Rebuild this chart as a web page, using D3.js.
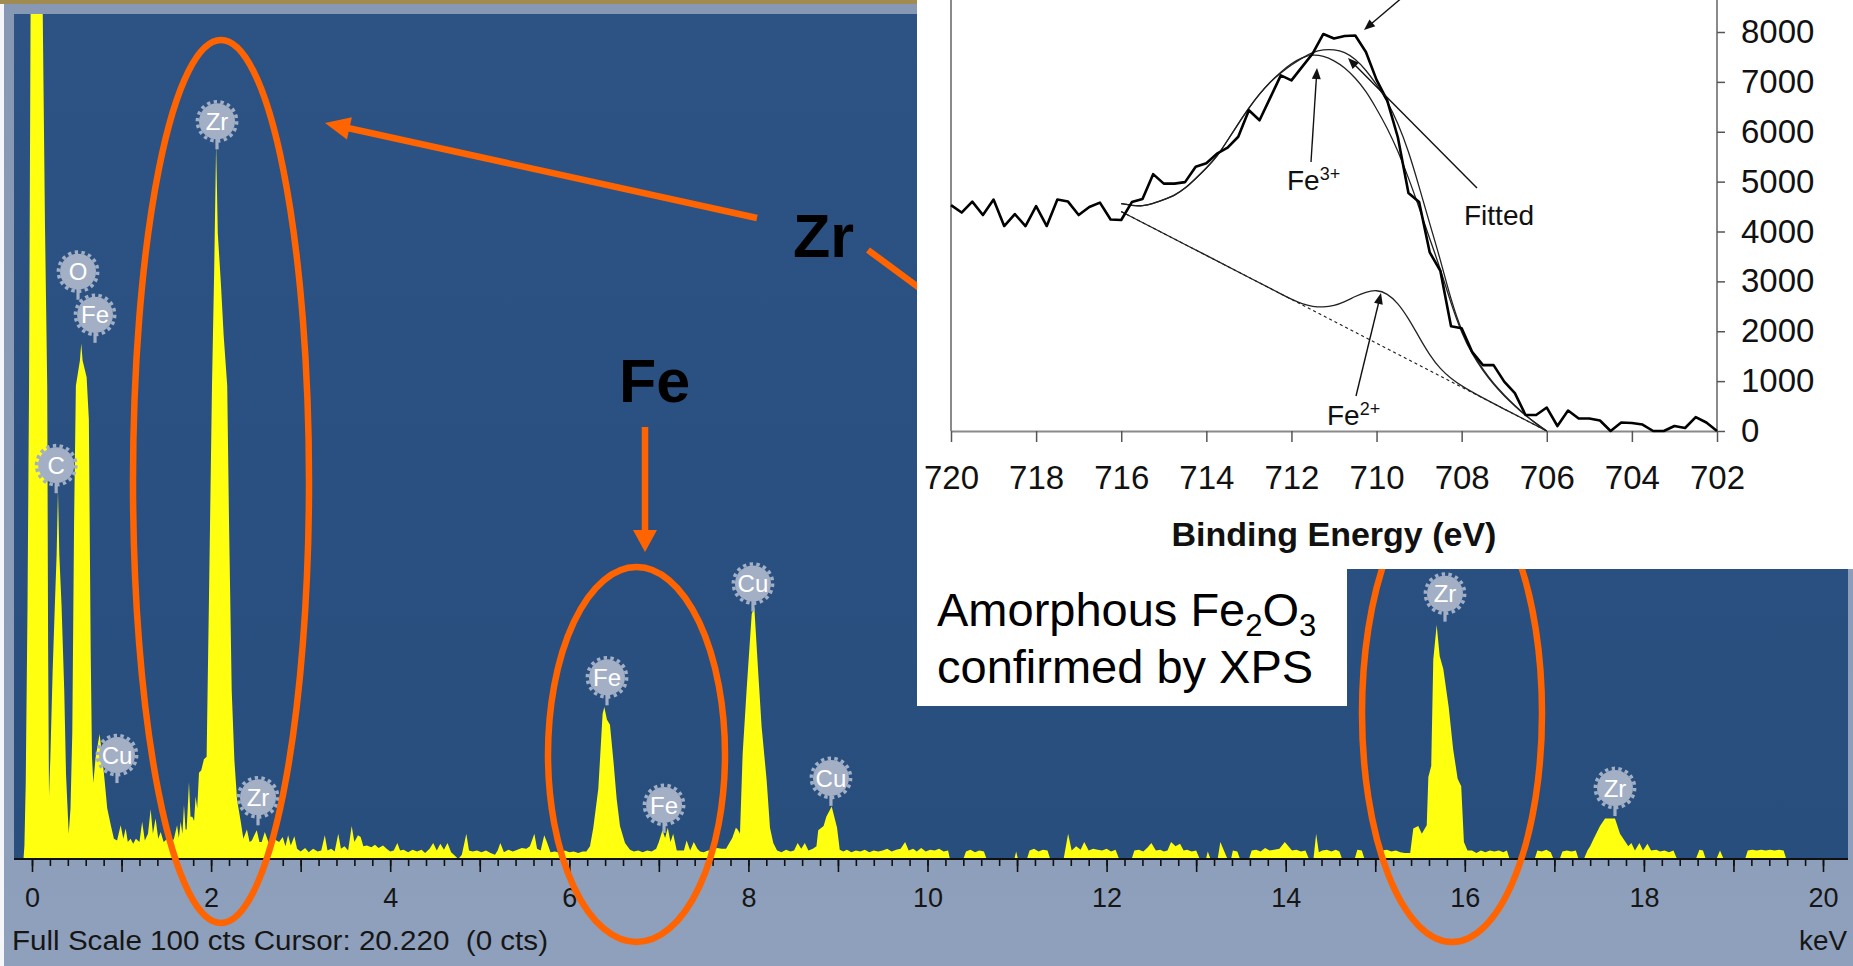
<!DOCTYPE html>
<html>
<head>
<meta charset="utf-8">
<script src="https://cdn.jsdelivr.net/npm/d3@7"></script>
<style>
  html, body { margin: 0; padding: 0; background: #8a9bb8; overflow: hidden; }
  svg { display: block; }
  text { font-family: 'Liberation Sans', Arial, sans-serif; }
</style>
</head>
<body>
<svg id="chart" width="1853" height="966"></svg>
<script>
// ---------- EDS spectrum: [energy (keV), counts] ----------
const edsSpectrum = [
  // zero-energy strobe peak
  [-0.095,0],[-0.085,1.5],[-0.07,9],[-0.05,30],[-0.033,56],[-0.016,100],[0.0,160],[0.1,160],[0.12,100],[0.145,75],[0.17,56],[0.18,25],[0.19,7.4],
  // C K
  [0.205,12],[0.23,22],[0.255,30],[0.275,36],[0.29,43.7],[0.305,36],[0.33,30],[0.36,20],[0.38,10],[0.41,3],
  // O K
  [0.43,6],[0.45,15],[0.47,40],[0.49,56],[0.535,59],[0.55,61],[0.565,59],[0.61,57],[0.635,52],[0.655,25],[0.67,12],[0.685,9],
  // Fe L / Cu L
  [0.71,12],[0.755,14.8],[0.78,12.5],[0.81,9.4],[0.84,6],[0.88,4],[0.915,2.4],
  [0.95,2.2],[0.99,4.0],[1.02,2.4],[1.046,3.6],[1.07,2.0],[1.10,2.4],[1.13,1.8],[1.16,2.4],[1.2,2.0],[1.23,4.4],[1.26,2.2],[1.295,3.0],[1.325,5.9],[1.35,3.0],[1.38,4.8],[1.41,2.4],[1.437,3.2],[1.47,2.0],[1.51,2.4],[1.55,1.8],[1.585,2.4],[1.62,4.0],[1.64,2.5],[1.66,4.4],[1.68,3.0],[1.697,6.4],[1.715,3.5],[1.727,3.5],[1.753,9.1],[1.77,5],[1.79,5],[1.81,4.5],[1.827,7.4],[1.845,6],[1.865,10.2],[1.89,10.5],[1.92,11.8],[1.95,12.1],
  // Zr L
  [1.975,30],[2.01,56],[2.035,70],[2.056,84.6],[2.075,74],[2.11,68],[2.14,62],[2.18,56],[2.2,40],[2.23,20],[2.26,11.7],[2.29,7],[2.33,4.5],[2.36,2.4],
  [2.4,3.5],[2.43,2.0],[2.455,2.2],[2.49,3.0],[2.51,3.4],[2.54,2.0],[2.565,2.0],[2.6,3.2],[2.64,2.0],[2.676,1.8],[2.71,2.4],[2.73,2.2],[2.76,2.0],[2.80,2.6],[2.83,1.5],[2.86,2.8],[2.89,1.6],[2.93,2.7],[2.96,1.2],[3.0,0.9],[3.05,1.3],[3.09,0.8],[3.14,1.2],[3.19,0.9],[3.23,1.0],[3.27,2.8],[3.30,1.0],[3.34,1.2],[3.38,0.9],[3.42,3.0],[3.45,1.2],[3.49,1.5],[3.53,1.0],[3.57,3.9],[3.60,2.0],[3.64,2.8],[3.67,2.6],[3.70,1.5],[3.74,1.6],[3.79,1.4],[3.83,1.7],[3.87,1.3],[3.92,1.6],[3.96,1.2],[4.0,0.9],[4.04,1.0],[4.08,1.9],[4.11,1.0],[4.15,1.1],[4.2,0.8],[4.25,1.1],[4.3,0.9],[4.35,1.1],[4.39,0.7],[4.44,1.2],[4.48,1.9],[4.52,1.0],[4.56,1.8],[4.6,1.1],[4.64,1.9],[4.68,0.8],[4.72,0.4],[4.76,0],[4.80,0.5],[4.85,3.0],[4.88,1.0],[4.92,0.9],[4.97,1.0],[5.02,0.8],[5.07,1.0],[5.12,0.7],[5.17,0.5],[5.2,1.0],[5.23,1.9],[5.27,0.8],[5.32,1.1],[5.37,0.9],[5.42,1.1],[5.47,1.3],[5.52,1.2],[5.56,1.5],[5.61,3.0],[5.64,1.2],[5.68,1.0],[5.72,2.8],[5.75,2.0],[5.79,0.8],[5.84,0.9],[5.9,0.7],[5.95,1.0],[6.0,0.8],[6.05,0.9],[6.10,0.7],[6.15,0.9],
  // Fe K alpha
  [6.19,0.9],[6.231,1.5],[6.268,3.7],[6.324,8.3],[6.372,17.2],[6.391,18.0],[6.42,16.5],[6.454,15.9],[6.492,11.7],[6.529,7.1],[6.566,3.9],[6.622,1.9],[6.678,1.1],
  [6.72,0.9],[6.77,1.0],[6.82,0.8],[6.87,1.0],[6.92,0.9],[6.97,1.2],
  // Fe K beta
  [7.0,2.0],[7.04,3.4],[7.07,2.5],[7.10,3.7],[7.13,2.0],[7.16,3.0],[7.2,1.0],[7.24,1.0],[7.28,1.0],[7.31,2.2],[7.35,1.0],[7.39,2.0],[7.43,1.2],[7.46,0.9],[7.50,0.8],[7.55,1.0],[7.60,1.1],[7.65,1.3],[7.70,1.2],
  // Cu K alpha
  [7.75,1.2],[7.82,2.5],[7.86,3.7],[7.88,3.5],[7.906,3.0],[7.936,12.5],[7.98,20],[8.037,29],[8.066,29.8],[8.11,22],[8.148,15.6],[8.204,9.3],[8.241,3.7],[8.278,1.9],[8.32,1.0],
  [8.37,0.8],[8.42,1.1],[8.47,0.9],[8.51,1.0],[8.55,1.9],[8.59,1.2],[8.63,1.9],[8.67,1.0],[8.72,1.2],
  // Cu K beta
  [8.76,1.5],[8.78,3.4],[8.84,3.9],[8.87,5.0],[8.93,6.2],[8.99,3.7],[9.02,1.1],
  [9.06,0.9],[9.10,1.1],[9.15,0.8],[9.2,1.0],[9.25,0.9],[9.3,1.1],[9.35,0.8],[9.4,1.0],[9.45,0.9],
  [9.5,1.0],[9.55,1.2],[9.6,0.9],[9.65,1.1],[9.7,1.2],[9.75,2.0],[9.79,1.0],[9.84,1.2],[9.88,0.9],[9.93,1.3],[9.98,0.9],[10.03,1.1],[10.08,1.0],[10.13,1.2],[10.18,0.9],[10.23,1.0],[10.25,0],
  [10.40,0],[10.43,0.9],[10.48,1.1],[10.53,0.8],[10.58,1.0],[10.63,0.9],[10.66,0],
  [10.97,0],[10.99,0.9],[11.01,0],
  [11.11,0],[11.14,1.0],[11.19,1.2],[11.24,0.9],[11.29,1.1],[11.34,1.0],[11.37,0],
  [11.52,0],[11.57,3.0],[11.61,1.0],[11.66,1.5],[11.71,1.1],[11.75,2.0],[11.8,1.0],[11.85,1.2],[11.9,1.1],[11.95,1.0],[12.0,1.2],[12.05,0.9],[12.10,1.1],[12.14,0],
  [12.28,0],[12.31,1.0],[12.36,1.1],[12.41,0.9],[12.46,1.4],[12.5,1.9],[12.55,1.0],[12.6,1.1],[12.64,0.9],[12.68,1.0],[12.72,2.0],[12.77,1.5],[12.82,1.8],[12.86,1.0],[12.9,1.1],[12.95,0.9],[13.0,1.0],[13.04,0],
  [13.11,0],[13.13,0.9],[13.16,0],[13.24,0],[13.27,2.0],[13.31,1.0],[13.35,0],[13.39,0],[13.41,1.0],[13.46,0.9],[13.49,0],
  [13.59,0],[13.62,1.0],[13.67,1.1],[13.72,0.9],[13.77,1.3],[13.82,1.0],[13.87,1.1],[13.93,1.2],[13.99,2.0],[14.03,1.5],[14.07,1.0],[14.12,1.1],[14.17,0.9],[14.22,1.0],[14.26,0],[14.31,0],[14.34,3.0],[14.37,0.8],[14.41,1.0],[14.46,1.1],[14.51,0.9],[14.56,1.1],[14.6,0.9],[14.63,0],
  [14.77,0],[14.8,1.1],[14.85,1.0],[14.88,0],
  [15.05,0],[15.08,1.0],[15.13,1.1],[15.18,0.9],[15.23,1.0],[15.28,0.8],[15.33,0.7],
  // Zr K alpha
  [15.39,0.7],[15.425,3.6],[15.48,3.9],[15.52,3.0],[15.575,4.0],[15.593,9.7],[15.625,11],[15.648,23.6],[15.686,27.7],[15.72,24],[15.76,22.5],[15.82,18],[15.87,13],[15.92,9.5],[15.96,8.6],[15.99,2],[16.03,1.0],
  [16.08,1.0],[16.13,0.7],[16.18,1.0],[16.23,0.8],[16.28,1.0],[16.33,0.9],[16.38,1.0],[16.43,0.8],[16.47,1.0],[16.50,0],
  [16.78,0],[16.81,1.0],[16.86,0.9],[16.91,1.1],[16.96,0.8],[16.99,0],
  [17.06,0],[17.09,0.9],[17.14,1.0],[17.19,0.9],[17.24,1.0],[17.27,0],
  [17.33,0],[17.37,1.0],
  // Zr K beta
  [17.40,1.5],[17.435,2.3],[17.51,3.9],[17.566,4.8],[17.621,4.8],[17.677,4.8],[17.733,3.0],[17.826,1.5],[17.86,1.9],[17.9,1.0],[17.95,1.9],[17.99,1.0],[18.04,1.8],[18.08,1.0],[18.14,1.1],[18.18,0.9],[18.23,1.0],[18.28,0.8],[18.33,1.0],[18.37,0],
  [18.58,0],[18.62,1.1],[18.66,1.0],[18.69,0],
  [18.81,0],[18.85,1.0],[18.89,0],
  [19.13,0],[19.16,1.0],[19.21,1.1],[19.26,1.0],[19.31,1.1],[19.36,1.0],[19.41,1.1],[19.46,1.0],[19.51,1.1],[19.56,1.0],[19.59,0],
  [20.3,0]
];

const edsTickLabels = [0, 2, 4, 6, 8, 10, 12, 14, 16, 18, 20];
const edsMajorTicks = d3.range(0, 21, 1);
const edsMinorTicks = d3.range(0, 101, 1).map(i => i / 5);

// element markers: line energy (keV) and the count level the marker sits at
const peakLabels = [
  { element: "C",  keV: 0.27,  level: 46.6 },
  { element: "O",  keV: 0.514, level: 69.5 },
  { element: "Fe", keV: 0.704, level: 64.4 },
  { element: "Cu", keV: 0.949, level: 12.3 },
  { element: "Zr", keV: 2.066, level: 87.3 },
  { element: "Zr", keV: 2.524, level: 7.3 },
  { element: "Fe", keV: 6.421, level: 21.5 },
  { element: "Fe", keV: 7.058, level: 6.4 },
  { element: "Cu", keV: 8.051, level: 32.6 },
  { element: "Cu", keV: 8.922, level: 9.6 },
  { element: "Zr", keV: 15.779, level: 31.4 },
  { element: "Zr", keV: 17.677, level: 8.4 }
];

// ---------- XPS Fe 2p3/2 region: [binding energy (eV), counts] ----------
const xpsRaw = [
  [720.00,4530],[719.75,4380],[719.50,4600],[719.25,4330],[719.00,4640],[718.75,4110],[718.50,4350],[718.25,4110],[718.00,4510],[717.75,4110],[717.50,4640],[717.25,4600],[717.00,4330],[716.75,4490],[716.50,4580],[716.25,4240],[716.00,4230],[715.75,4590],[715.50,4650],[715.25,5150],[715.00,4960],[714.75,4960],[714.50,4990],[714.25,5300],[714.00,5370],[713.75,5560],[713.50,5680],[713.25,5900],[713.00,6430],[712.75,6230],[712.50,6680],[712.25,7130],[712.00,7030],[711.75,7300],[711.50,7570],[711.25,7960],[711.00,7870],[710.75,7920],[710.50,7930],[710.25,7600],[710.00,7040],[709.75,6630],[709.50,5890],[709.25,4770],[709.00,4590],[708.75,3580],[708.50,3210],[708.25,2100],[708.00,2060],[707.75,1580],[707.50,1320],[707.25,1320],[707.00,990],[706.75,760],[706.50,320],[706.25,320],[706.00,470],[705.75,100],[705.50,410],[705.25,250],[705.00,250],[704.75,210],[704.50,0],[704.25,170],[704.00,160],[703.75,130],[703.50,0],[703.25,0],[703.00,100],[702.75,60],[702.50,280],[702.25,170],[702.00,0]
];
const xpsFitted = [
  [716.0,4560],[715.75,4520],[715.5,4510],[715.25,4560],[715.0,4640],[714.75,4720],[714.5,4860],[714.25,5060],[714.0,5270],[713.75,5500],[713.5,5830],[713.25,6160],[713.0,6480],[712.75,6760],[712.5,7000],[712.25,7180],[712.0,7340],[711.75,7480],[711.5,7600],[711.25,7650],[711.0,7650],[710.75,7600],[710.5,7460],[710.25,7240],[710.0,6950],[709.75,6620],[709.5,6180],[709.25,5620],[709.0,4900],[708.75,4150],[708.5,3440],[708.25,2620],[708.0,2000],[707.75,1560],[707.5,1230],[707.25,950],[707.0,720],[706.75,510],[706.5,320],[706.25,150],[706.0,0]
];
const xpsFe3 = [
  [716.0,4560],[715.75,4520],[715.5,4510],[715.25,4560],[715.0,4640],[714.75,4720],[714.5,4860],[714.25,5060],[714.0,5270],[713.75,5500],[713.5,5830],[713.25,6160],[713.0,6480],[712.75,6760],[712.5,7000],[712.25,7200],[712.0,7370],[711.75,7490],[711.5,7550],[711.25,7520],[711.0,7430],[710.75,7290],[710.5,7080],[710.25,6820],[710.0,6460],[709.75,6080],[709.5,5620],[709.25,5080],[709.0,4480],[708.75,3850],[708.5,3250],[708.25,2550],[708.0,1960],[707.75,1530],[707.5,1210],[707.25,930],[707.0,700],[706.75,500],[706.5,310],[706.25,140],[706.0,0]
];
const xpsFe2 = [
  [716.0,4400],[715.0,3960],[714.0,3520],[713.0,3080],[712.25,2750],[712.0,2640],[711.75,2545],[711.5,2495],[711.25,2480],[711.0,2510],[710.75,2590],[710.5,2700],[710.25,2790],[710.0,2830],[709.75,2760],[709.5,2570],[709.25,2260],[709.0,1880],[708.75,1520],[708.5,1240],[708.25,1050],[708.0,900],[707.5,660],[707.0,440],[706.5,220],[706.0,0]
];
const xpsBackground = [[716.0,4400],[706.0,0]];
const xpsEnergyTicks = [720, 718, 716, 714, 712, 710, 708, 706, 704, 702];
const xpsCountTicks = [0, 1000, 2000, 3000, 4000, 5000, 6000, 7000, 8000];

// ---------- drawing ----------
const svg = d3.select("#chart");
const W = 1853, H = 966;
const orange = "#ff6400";
const badgeColor = "#a3afc5";

const defs = svg.append("defs");
const bg = defs.append("linearGradient").attr("id", "plotBg").attr("x1", 0).attr("y1", 0).attr("x2", 0).attr("y2", 1);
bg.append("stop").attr("offset", "0%").attr("stop-color", "#2c5384");
bg.append("stop").attr("offset", "100%").attr("stop-color", "#284e7e");
const panel = defs.append("linearGradient").attr("id", "panelBg").attr("x1", 0).attr("y1", 0).attr("x2", 0).attr("y2", 1);
panel.append("stop").attr("offset", "0%").attr("stop-color", "#8798b5");
panel.append("stop").attr("offset", "100%").attr("stop-color", "#8fa0bc");
defs.append("clipPath").attr("id", "plotClip").append("rect")
  .attr("x", 14).attr("y", 14).attr("width", 1834).attr("height", 845);

// window frame
svg.append("rect").attr("width", W).attr("height", H).attr("fill", "url(#panelBg)");
svg.append("rect").attr("x", 0).attr("y", 0).attr("width", 917).attr("height", 4).attr("fill", "#a08c50");
svg.append("rect").attr("x", 0).attr("y", 4).attr("width", 4).attr("height", H - 4).attr("fill", "#f4f6fa");

// EDS plot area
svg.append("rect").attr("x", 14).attr("y", 14).attr("width", 1834).attr("height", 845).attr("fill", "url(#plotBg)");

const x = d3.scaleLinear().domain([0, 20]).range([32, 1823]);
const y = d3.scaleLinear().domain([0, 100]).range([859, 14]);

svg.append("path")
  .datum(edsSpectrum)
  .attr("clip-path", "url(#plotClip)")
  .attr("fill", "#ffff10")
  .attr("d", d3.area().x(d => x(d[0])).y0(y(0)).y1(d => y(d[1])));

// energy axis
const axisG = svg.append("g").attr("transform", `translate(0,${y(0)})`);
axisG.append("g").call(d3.axisBottom(x).tickValues(edsMinorTicks).tickSize(7).tickFormat(""))
  .call(g => g.select(".domain").remove());
axisG.append("g").call(d3.axisBottom(x).tickValues(edsMajorTicks).tickSize(13).tickFormat(""))
  .call(g => g.select(".domain").remove());
axisG.selectAll(".tick line").attr("stroke", "#111").attr("stroke-width", 1.6);
axisG.append("g").call(d3.axisBottom(x).tickValues(edsTickLabels).tickSize(0).tickPadding(29).tickFormat(d3.format("d")))
  .call(g => g.select(".domain").remove())
  .selectAll("text").attr("font-size", 27).attr("fill", "#161616").attr("font-family", "'Liberation Sans', Arial, sans-serif");
axisG.append("line").attr("x1", 14).attr("x2", 1848).attr("y1", 0).attr("y2", 0).attr("stroke", "#111").attr("stroke-width", 2.2);

svg.append("text").attr("x", 12).attr("y", 950).attr("font-size", 27).attr("fill", "#161616")
  .attr("textLength", 536).attr("lengthAdjust", "spacingAndGlyphs").style("white-space", "pre")
  .text("Full Scale 100 cts Cursor: 20.220  (0 cts)");
svg.append("text").attr("x", 1799).attr("y", 950).attr("font-size", 27).attr("fill", "#161616")
  .attr("textLength", 48).attr("lengthAdjust", "spacingAndGlyphs").text("keV");

// element markers
const badges = svg.append("g").selectAll("g").data(peakLabels).join("g")
  .attr("transform", d => `translate(${x(d.keV)},${y(d.level)})`);
badges.append("rect").attr("x", -1.6).attr("y", 16).attr("width", 3.2).attr("height", 12).attr("fill", badgeColor);
badges.append("circle").attr("r", 18).attr("fill", badgeColor);
badges.append("circle").attr("r", 19.6).attr("fill", "none").attr("stroke", badgeColor)
  .attr("stroke-width", 3.6).attr("stroke-dasharray", "3.4 3.4");
badges.append("text").attr("text-anchor", "middle").attr("dy", "0.36em")
  .attr("font-size", 24).attr("fill", "#ffffff").text(d => d.element);

// annotations
function arrow(g, tail, tip, len, half, color, width) {
  const dx = tip[0] - tail[0], dy = tip[1] - tail[1], L = Math.hypot(dx, dy);
  const ux = dx / L, uy = dy / L;
  const bx = tip[0] - ux * len, by = tip[1] - uy * len;
  g.append("line").attr("x1", tail[0]).attr("y1", tail[1])
    .attr("x2", tip[0] - ux * len * 0.7).attr("y2", tip[1] - uy * len * 0.7)
    .attr("stroke", color).attr("stroke-width", width);
  g.append("path")
    .attr("d", `M${tip[0]},${tip[1]}L${bx - uy * half},${by + ux * half}L${bx + uy * half},${by - ux * half}Z`)
    .attr("fill", color);
}

const ann = svg.append("g");
ann.append("ellipse").attr("cx", 221).attr("cy", 481.5).attr("rx", 88).attr("ry", 441.5)
  .attr("fill", "none").attr("stroke", orange).attr("stroke-width", 6.5);
ann.append("ellipse").attr("cx", 636.5).attr("cy", 754.5).attr("rx", 88.5).attr("ry", 187.5)
  .attr("fill", "none").attr("stroke", orange).attr("stroke-width", 6.5);
ann.append("ellipse").attr("cx", 1452).attr("cy", 713).attr("rx", 90).attr("ry", 229)
  .attr("fill", "none").attr("stroke", orange).attr("stroke-width", 6.5);
arrow(ann, [757, 218], [325, 123], 25, 11.5, orange, 6.5);
arrow(ann, [645, 427], [645, 552], 22, 12, orange, 6.5);
ann.append("line").attr("x1", 868).attr("y1", 250).attr("x2", 960).attr("y2", 318)
  .attr("stroke", orange).attr("stroke-width", 6.5);
ann.append("text").attr("x", 793).attr("y", 257).attr("font-size", 61).attr("font-weight", "bold").attr("fill", "#000").text("Zr");
ann.append("text").attr("x", 619).attr("y", 402).attr("font-size", 61).attr("font-weight", "bold").attr("fill", "#000").text("Fe");

// ---------- XPS inset ----------
const inset = svg.append("g");
inset.append("rect").attr("x", 917).attr("y", 0).attr("width", W - 917).attr("height", 569).attr("fill", "#ffffff");
inset.append("rect").attr("x", 917).attr("y", 568).attr("width", 430).attr("height", 138).attr("fill", "#ffffff");

const xe = d3.scaleLinear().domain([720, 702]).range([951, 1717]);
const yc = d3.scaleLinear().domain([0, 8000]).range([431, 32]);
const axisGrey = "#8a8a8a";

inset.append("line").attr("x1", 951).attr("x2", 951).attr("y1", 0).attr("y2", 431).attr("stroke", axisGrey).attr("stroke-width", 2);
inset.append("line").attr("x1", 1717).attr("x2", 1717).attr("y1", 0).attr("y2", 431).attr("stroke", axisGrey).attr("stroke-width", 2);

const xa = inset.append("g").attr("transform", "translate(0,431)")
  .call(d3.axisBottom(xe).tickValues(xpsEnergyTicks).tickSize(11).tickSizeOuter(0).tickPadding(24).tickFormat(d3.format("d")));
xa.select(".domain").attr("stroke", axisGrey).attr("stroke-width", 2);
xa.selectAll(".tick line").attr("stroke", "#555").attr("stroke-width", 1.5);
xa.selectAll("text").attr("font-size", 33).attr("fill", "#111").attr("font-family", "'Liberation Sans', Arial, sans-serif");

const ya = inset.append("g").attr("transform", "translate(1717,0)")
  .call(d3.axisRight(yc).tickValues(xpsCountTicks).tickSize(8).tickSizeOuter(0).tickPadding(16).tickFormat(d3.format("d")));
ya.select(".domain").remove();
ya.selectAll(".tick line").attr("stroke", "#555").attr("stroke-width", 1.5);
ya.selectAll("text").attr("font-size", 33).attr("fill", "#111").attr("font-family", "'Liberation Sans', Arial, sans-serif");

inset.append("text").attr("x", 1334).attr("y", 546).attr("text-anchor", "middle")
  .attr("font-size", 34).attr("font-weight", "bold").attr("fill", "#111").text("Binding Energy (eV)");

const xpsLine = d3.line().x(d => xe(d[0])).y(d => yc(d[1]));
inset.append("path").datum(xpsBackground).attr("d", xpsLine)
  .attr("fill", "none").attr("stroke", "#222").attr("stroke-width", 1.2).attr("stroke-dasharray", "3 3");
inset.append("path").datum(xpsFe2).attr("d", xpsLine.curve(d3.curveBasis))
  .attr("fill", "none").attr("stroke", "#222").attr("stroke-width", 1.3);
inset.append("path").datum(xpsFe3).attr("d", xpsLine.curve(d3.curveBasis))
  .attr("fill", "none").attr("stroke", "#222").attr("stroke-width", 1.3);
inset.append("path").datum(xpsFitted).attr("d", xpsLine.curve(d3.curveBasis))
  .attr("fill", "none").attr("stroke", "#222").attr("stroke-width", 1.3);
inset.append("path").datum(xpsRaw).attr("d", xpsLine.curve(d3.curveLinear))
  .attr("fill", "none").attr("stroke", "#000").attr("stroke-width", 2.6).attr("stroke-linejoin", "round");

// inset call-outs
arrow(inset, [1404, -4], [1364, 30], 11, 4.5, "#111", 1.4);
arrow(inset, [1311, 162], [1317, 68], 11, 4.5, "#111", 1.4);
arrow(inset, [1477, 188], [1348, 58], 11, 4.5, "#111", 1.4);
arrow(inset, [1356, 396], [1381, 293], 11, 4.5, "#111", 1.4);

const fe3 = inset.append("text").attr("x", 1287).attr("y", 190).attr("font-size", 28).attr("fill", "#111");
fe3.append("tspan").text("Fe");
fe3.append("tspan").attr("font-size", 18).attr("dy", -10).text("3+");
const fe2 = inset.append("text").attr("x", 1327).attr("y", 425).attr("font-size", 28).attr("fill", "#111");
fe2.append("tspan").text("Fe");
fe2.append("tspan").attr("font-size", 18).attr("dy", -10).text("2+");
inset.append("text").attr("x", 1464).attr("y", 225).attr("font-size", 28).attr("fill", "#111").text("Fitted");

// caption box
const cap1 = inset.append("text").attr("x", 937).attr("y", 626).attr("font-size", 47).attr("fill", "#000");
cap1.append("tspan").text("Amorphous Fe");
cap1.append("tspan").attr("font-size", 31).attr("dy", 10).text("2");
cap1.append("tspan").attr("dy", -10).text("O");
cap1.append("tspan").attr("font-size", 31).attr("dy", 10).text("3");
inset.append("text").attr("x", 937).attr("y", 683).attr("font-size", 47).attr("fill", "#000").text("confirmed by XPS");
</script>
</body>
</html>
